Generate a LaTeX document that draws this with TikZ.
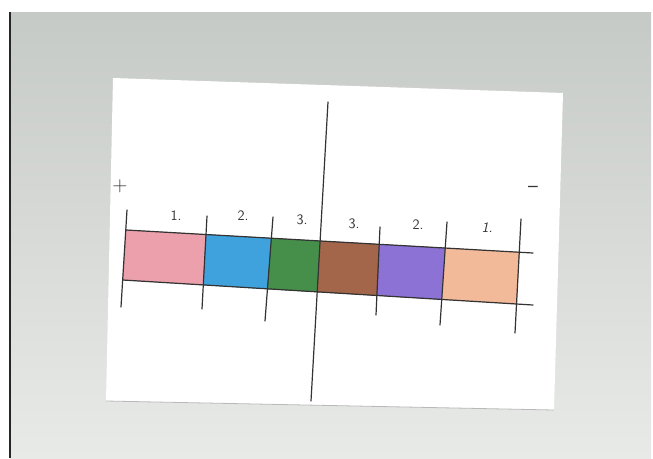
\documentclass[tikz,border=0pt]{standalone}
\usetikzlibrary{positioning}
\definecolor{inkgray}{HTML}{333333}
\definecolor{photogray}{HTML}{C6CAC6}
\definecolor{photolight}{HTML}{E8EAE8}
\definecolor{crayonpink}{HTML}{EBA0AB}
\definecolor{crayonblue}{HTML}{3FA2DC}
\definecolor{crayongreen}{HTML}{458F4B}
\definecolor{crayonbrown}{HTML}{A4664A}
\definecolor{crayonpurple}{HTML}{8C72D4}
\definecolor{crayonorange}{HTML}{F2BA98}

\begin{document}
\begin{tikzpicture}[
    x=1pt, y=-1pt,
    every node/.style={font=\sffamily, text=inkgray},
    pen/.style={draw=inkgray, line width=1.2pt, line cap=round},
    num/.style={font=\sffamily\Large, inner sep=1pt},
    crayon/.style={fill=#1, draw=#1!85!black, line width=0.4pt},
]

% Background (photo of the card)
\useasboundingbox (0,0) rectangle (653,458);
\fill[white] (0,0) rectangle (653,458);
\shade[top color=photogray, bottom color=photolight] (10,12) rectangle (651,458);
\draw[black!85, line width=1.6pt] (10,12) -- (10,458);

% Card
\fill[white] (113,78) -- (563,93) -- (554,410) -- (106,401) -- cycle;
\draw[gray!55, line width=0.8pt] (106,401) -- (554,410);

% === Coloured boxes ===
\fill[crayon=crayonpink]   (126,230) -- (206,234.5) -- (203.3,285) -- (122.7,280) -- cycle;
\fill[crayon=crayonblue]   (206,234.5) -- (271.4,238.2) -- (267.5,289) -- (203.3,285) -- cycle;
\fill[crayon=crayongreen]  (271.4,238.2) -- (320.1,241) -- (317.2,292) -- (267.5,289) -- cycle;
\fill[crayon=crayonbrown]  (320.1,241) -- (379.2,244.3) -- (376.9,295.5) -- (317.2,292) -- cycle;
\fill[crayon=crayonpurple] (379.2,244.3) -- (445.2,248) -- (441.7,299.5) -- (376.9,295.5) -- cycle;
\fill[crayon=crayonorange] (445.2,248) -- (519.3,252.3) -- (516.5,304) -- (441.7,299.5) -- cycle;

% === Strip lines ===
\draw[pen] (126,230) -- (533,253);
\draw[pen] (122.7,280) -- (533,305);

% Dividers
\foreach \xt/\yt/\xb/\yb in {127/210/121/307, 207/216/202/309, 273/217/265/321,
                             380/227/376/315, 447/222/440/325, 521/219/515/333} {
    \draw[pen] (\xt,\yt) -- (\xb,\yb);
}

% Middle line
\draw[pen] (328,102) -- (311,401);

% === Labels ===
\node[num] (l1) at (176,216) {1.};
\node[num] (l2) at (243,216) {2.};
\node[num] (l3) at (302,220) {3.};
\node[num] (r3) at (354,224) {3.};
\node[num] (r2) at (418,225) {2.};
\node[num] (r1) at (487,228) {\textit{1.}};

\node[font=\sffamily\huge] (plus) at (120,186) {+};
\node[font=\sffamily\huge] (minus) at (533,189) {--};

\end{tikzpicture}
\end{document}
